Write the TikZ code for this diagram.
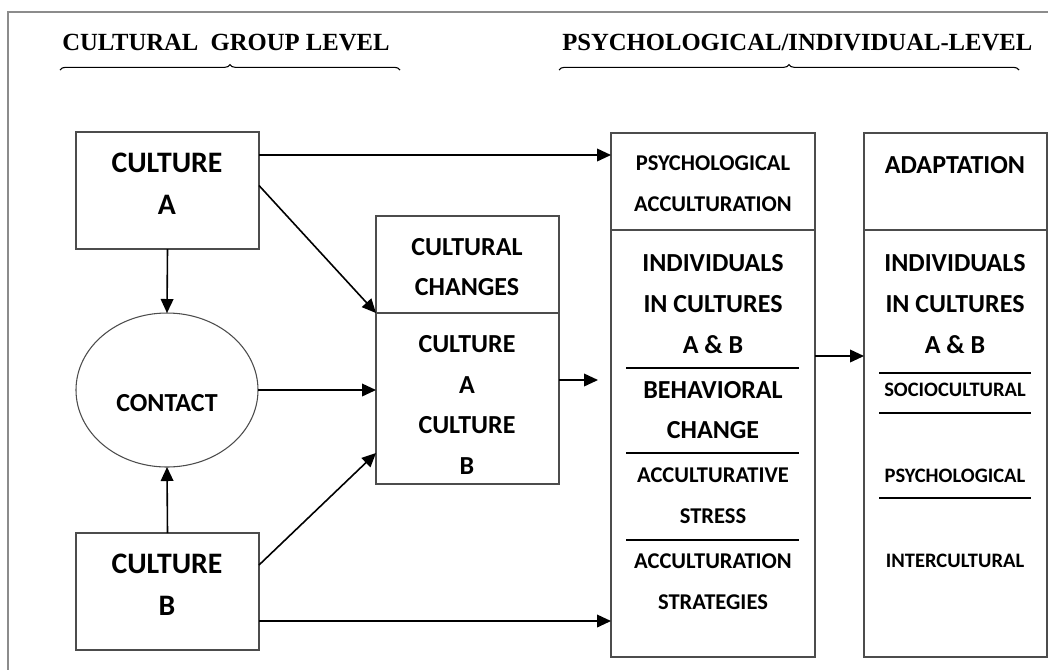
\documentclass[tikz,border=0pt]{standalone}
\usepackage{fontspec}
\setmainfont{Carlito}
\newfontfamily\levelfont{Liberation Serif}
\usetikzlibrary{arrows.meta, positioning, shapes.geometric, calc, decorations.pathreplacing}

\begin{document}
\begin{tikzpicture}[
  % one unit = one pixel of the figure, y running downward
  x            = 0.75pt,
  y            = -0.75pt,
  box/.style   = {draw=black!70, line width=1pt, rectangle,
                  inner sep=0pt, outer sep=0pt},
  txt/.style   = {align=center, inner sep=0pt},
  bigtxt/.style = {txt, font=\fontsize{22.3}{31.5}\selectfont\bfseries},
  medtxt/.style = {txt, font=\fontsize{19.5}{30.5}\selectfont\bfseries},
  smltxt/.style = {txt, font=\fontsize{16.9}{30.75}\selectfont\bfseries},
  tintxt/.style = {txt, font=\fontsize{15.4}{30}\selectfont\bfseries},
  level/.style = {inner sep=0pt, anchor=west,
                  font=\levelfont\fontsize{18.5}{22}\selectfont\bfseries},
  arr/.style   = {-{Triangle[length=10.5pt, width=9.5pt]}, line width=1.2pt},
  sepline/.style = {line width=0.8pt},
  curly/.style = {decorate, decoration={brace, amplitude=4pt}, line width=0.8pt},
]

\useasboundingbox (0,0) rectangle (1048,669);
\clip (0,0) rectangle (1048,669);
\draw[black!45, line width=1.5pt] (8,12) rectangle (1070,690);

% ── Level headings ─────────────────────────────────────────────────────────────
\node[level] (groupLvl) at (62,43)  {CULTURAL\ \ GROUP LEVEL};
\node[level] (indivLvl) at (562,43) {PSYCHOLOGICAL/INDIVIDUAL-LEVEL};
\draw[curly] (60,70)  -- (400,70);
\draw[curly] (559,70) -- (1019,70);

% ── Boxes ──────────────────────────────────────────────────────────────────────
\node[box, minimum width=137.25pt, minimum height=87.75pt] (cultA)   at (167.5,190.5) {};
\node[box, minimum width=137.25pt, minimum height=87.75pt] (cultB)   at (167.5,591.5) {};
\node[draw=black!70, line width=0.8pt, ellipse, inner sep=0pt, outer sep=0pt,
      minimum width=136.5pt, minimum height=115.5pt]          (contact) at (167,390)     {};
\node[box, minimum width=137.25pt, minimum height=201pt]   (changes) at (467.5,350)   {};
\node[box, minimum width=153pt,    minimum height=393pt]   (psych)   at (713,395)     {};
\node[box, minimum width=137.25pt, minimum height=393pt]   (adapt)   at (955.5,395)   {};

% splits
\draw[box] ($(changes.north west)+(0,97)$) -- ($(changes.north east)+(0,97)$);
\draw[box] ($(psych.north west)+(0,97)$)   -- ($(psych.north east)+(0,97)$);
\draw[box] ($(adapt.north west)+(0,97)$)   -- ($(adapt.north east)+(0,97)$);
\foreach \dy in {235, 320, 407}
  \draw[sepline] ($(psych.north west)+(15,\dy)$) -- ($(psych.north east)+(-16,\dy)$);
\foreach \dy in {240, 280, 365}
  \draw[sepline] ($(adapt.north west)+(15,\dy)$) -- ($(adapt.north east)+(-16,\dy)$);

% ── Texts ──────────────────────────────────────────────────────────────────────
\node[bigtxt] (cultAtxt)   at (167,184) {CULTURE\\A};
\node[bigtxt] (cultBtxt)   at (167,585) {CULTURE\\B};
\node[medtxt] (contactTxt) at (167,403) {CONTACT};
\node[medtxt] (changesTop) at (467,267) {CULTURAL\\CHANGES};
\node[medtxt] (changesBot) at (467,405) {CULTURE\\A\\CULTURE\\B};

\node[smltxt] (psychTop)   at (713,184) {PSYCHOLOGICAL\\ACCULTURATION};
\node[medtxt] (psychIndiv) at (713,304) {INDIVIDUALS\\IN CULTURES\\A \& B};
\node[medtxt] (behavior)   at (713,410) {BEHAVIORAL\\CHANGE};
\node[smltxt] (stress)     at (713,496) {ACCULTURATIVE\\STRESS};
\node[smltxt] (strategy)   at (713,582) {ACCULTURATION\\STRATEGIES};

\node[medtxt] (adaptTop)   at (955,165) {ADAPTATION};
\node[medtxt] (adaptIndiv) at (955,304) {INDIVIDUALS\\IN CULTURES\\A \& B};
\node[tintxt] (socio)      at (955,390) {SOCIOCULTURAL};
\node[tintxt] (psychol)    at (955,476) {PSYCHOLOGICAL};
\node[tintxt] (intercult)  at (955,561) {INTERCULTURAL};

% ── Arrows ─────────────────────────────────────────────────────────────────────
\draw[arr] (cultA.south) -- (contact.north);
\draw[arr] (cultB.north) -- (contact.south);
\draw[arr] ($(cultA.north east)+(0,23)$)   -- ($(psych.north west)+(0,22)$);
\draw[arr] ($(cultA.east)+(0,-5)$)         -- ($(changes.north west)+(0,97)$);
\draw[arr] (contact.east)                  -- (contact.east -| changes.west);
\draw[arr] ($(cultB.north east)+(0,32)$)   -- ($(changes.south west)+(0,-31)$);
\draw[arr] ($(cultB.south east)+(0,-29)$)  -- ($(psych.south west)+(0,-36)$);
\draw[arr] ($(changes.south east)+(0,-104)$) -- ($(psych.west)+(-13,-15)$);
\draw[arr] ($(psych.east)+(0,-39)$)        -- ($(adapt.west)+(0,-39)$);

\end{tikzpicture}
\end{document}
